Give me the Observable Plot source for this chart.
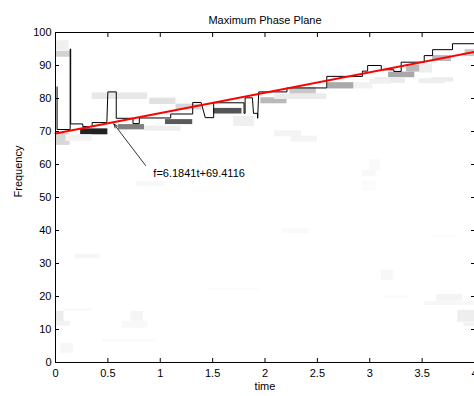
<!DOCTYPE html>
<html><head><meta charset="utf-8">
<script src="https://cdn.jsdelivr.net/npm/d3@7"></script>
<script src="https://cdn.jsdelivr.net/npm/@observablehq/plot@0.6"></script>
<style>html,body{margin:0;padding:0;background:#fff;overflow:hidden}</style>
</head><body><div id="chart"></div>
<script>
const titleText = "Maximum Phase Plane";
const xLabel = "time";
const yLabel = "Frequency";
const xTicks = [0, 0.5, 1, 1.5, 2, 2.5, 3, 3.5, 4];
const yTicks = [0, 10, 20, 30, 40, 50, 60, 70, 80, 90, 100];

// spectrogram-like cells: time span, frequency span, gray level (0 = black, 255 = white)
const cellT0 = [0,0,0,0.24,0.6,1.05,1.51,0.35,0.9,1.15,0.85,0.1,1.96,2.09,2.24,2.6,2.85,3.18,3.35,3.05,3.48,3.6,3.91,3.59,1.7,2.09,2.25,3.0,2.93,0.19,0,0,0.08,0.72,0.64,0.45,0.05,0.77,2.17,3.11,3.6,3.64,3.52,3.84,3.9,1.45,3.13,2.93,3.0,3.47];
const cellT1 = [0.14,0.13,0.14,0.5,0.85,1.31,1.78,0.88,1.15,1.4,1.2,0.35,2.21,2.59,2.49,2.85,3.03,3.43,3.48,3.34,3.6,3.78,4.0,3.8,1.9,2.35,2.5,3.1,3.06,0.43,0.08,0.14,0.35,0.84,0.88,0.96,0.17,1.04,2.42,3.23,3.84,3.89,4.0,4.0,4.0,1.95,3.38,3.06,3.2,3.72];
const cellF0 = [92.5,94.3,65.8,69.0,70.5,72.1,75.3,79.7,78.2,76.5,70.1,67.0,78.4,79.7,81.4,82.9,82.9,86.3,88.0,84.6,87.7,91.2,92.7,85.0,71.5,68.4,66.8,58.0,52.0,31.4,12.0,11.0,15.5,12.5,10.4,6.2,2.8,53.3,39.0,24.8,37.7,18.6,17.3,12.2,10.9,22.0,19.5,56.3,84.3,84.5];
const cellF1 = [94.3,97.5,69.4,70.8,72.1,73.6,77.0,81.7,80.1,78.3,71.6,69.0,80.2,81.4,83.2,84.8,84.8,88.0,90.2,86.3,90.5,93.0,94.8,86.3,74.6,70.2,68.6,61.5,55.0,32.8,15.5,12.5,16.3,15.5,12.4,7.0,5.8,54.8,40.7,28.0,38.5,20.6,18.5,15.8,12.2,22.6,20.2,58.2,85.8,86.0];
const cellGray = [210,240,215,34,128,90,85,232,225,215,238,243,185,235,200,170,242,168,185,235,238,185,200,235,240,244,244,250,251,246,235,242,249,245,248,249,247,248,250,247,251,244,247,238,243,251,250,248,240,238];

// maximum-frequency trace (polyline vertices)
const stepT = [0.015,0.015,0.14,0.14,0.145,0.145,0.26,0.26,0.35,0.35,0.49,0.5,0.58,0.58,0.74,0.74,0.8,0.8,1.1,1.1,1.31,1.31,1.39,1.43,1.51,1.51,1.8,1.8,1.81,1.81,1.88,1.89,1.93,1.93,1.94,2.21,2.21,2.59,2.59,2.93,2.93,2.98,2.98,3.11,3.11,3.23,3.23,3.3,3.3,3.52,3.52,3.6,3.6,3.79,3.79,4.0];
const stepF = [83.5,70.6,70.6,95,95,72.3,72.3,71.5,71.5,72.7,72.7,82,82,74,74,72.4,72.4,74.1,74.1,75.3,75.3,78.8,78.8,74.2,74.2,78.7,78.7,75.5,75.5,80.2,80.2,75.5,75.5,74,82,82,83.2,83.2,86.7,86.7,88.3,88.3,90,90,88.7,88.7,88.2,88.2,91,91,93,93,94.8,94.8,96.6,96.6];

// linear fit f = a t + b
const fitSlope = 6.1841;
const fitIntercept = 69.4116;
const fitT = [0, 4];
const fitLabel = "f=6.1841t+69.4116";

// annotation: text anchor and arrow head (data units)
const annotText = [0.934, 57.4];
const annotTail = [0.86, 59.7];
const annotHead = [0.557, 72.3];

const cells = cellT0.map((t0, i) => ({t0, t1: cellT1[i], f0: cellF0[i], f1: cellF1[i], g: cellGray[i]}));
const step = stepT.map((t, i) => ({t, f: stepF[i]}));
const fit = fitT.map(t => ({t, f: fitSlope * t + fitIntercept}));

const font = "'Liberation Sans', Arial, Helvetica, sans-serif";
const fmt = d => String(d);

const chart = Plot.plot({
  width: 474,
  height: 396,
  marginLeft: 55,
  marginRight: 0,
  marginTop: 32,
  marginBottom: 34,
  x: {domain: [0, 4]},
  y: {domain: [0, 100]},
  style: {fontFamily: font, fontSize: "11px", background: "white", color: "black"},
  marks: [
    Plot.rect(cells, {x1: "t0", x2: "t1", y1: "f0", y2: "f1", fill: d => `rgb(${d.g},${d.g},${d.g})`}),
    Plot.line(step, {x: "t", y: "f", stroke: "black", strokeWidth: 1, curve: "linear"}),
    Plot.line(fit, {x: "t", y: "f", stroke: "#ff0000", strokeWidth: 2}),
    Plot.arrow([0], {x1: () => annotTail[0], y1: () => annotTail[1], x2: () => annotHead[0], y2: () => annotHead[1], stroke: "black", strokeWidth: 0.8, headLength: 8, headAngle: 40}),
    Plot.text([fitLabel], {x: () => annotText[0], y: () => annotText[1], text: d => d, textAnchor: "start", fontSize: 11, fill: "black"}),
    Plot.frame({stroke: "black", strokeWidth: 1}),
    Plot.axisX(xTicks, {anchor: "bottom", tickSize: -4, tickFormat: () => "", label: null}),
    Plot.axisX(xTicks, {anchor: "top", tickSize: -4, tickFormat: () => "", label: null}),
    Plot.axisX(xTicks, {anchor: "bottom", tickSize: 0, tickPadding: 7, tickFormat: fmt, label: null, fontSize: 11}),
    Plot.axisY(yTicks, {anchor: "left", tickSize: -4, tickFormat: () => "", label: null}),
    Plot.axisY(yTicks, {anchor: "right", tickSize: -4, tickFormat: () => "", label: null}),
    Plot.axisY(yTicks, {anchor: "left", tickSize: 0, tickPadding: 4, tickFormat: fmt, label: null, fontSize: 11}),
    Plot.text([titleText], {frameAnchor: "top", dy: -16, text: d => d, fontSize: 11, fill: "black"}),
    Plot.text([xLabel], {frameAnchor: "bottom", dy: 27, text: d => d, fontSize: 11, fill: "black"}),
    Plot.text([yLabel], {frameAnchor: "left", dx: -37, rotate: -90, text: d => d, fontSize: 11, fill: "black"})
  ]
});
document.getElementById("chart").appendChild(chart);
</script></body></html>
